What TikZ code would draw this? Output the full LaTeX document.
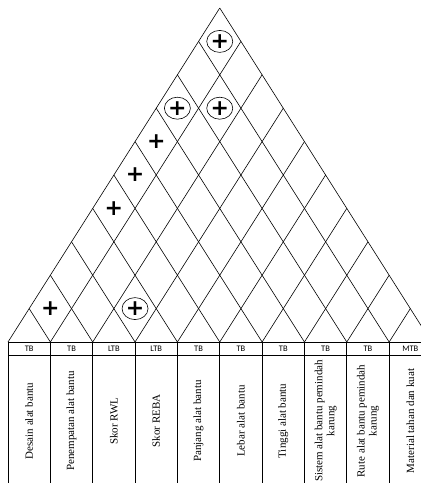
\documentclass[tikz,border=0pt]{standalone}
\usepackage{fontspec}
\setmainfont{Liberation Serif}
\newfontfamily\lblfont{Carlito}
\newfontfamily\symfont{DejaVu Sans}
\usetikzlibrary{positioning}

\newcommand\colw{42.35}
\newcommand\levh{33.4}

\begin{document}
\begin{tikzpicture}[x=1pt,y=-1pt,
  roofline/.style={line width=0.6pt},
  tabline/.style={line width=0.9pt},
  typelbl/.style={font=\lblfont\fontsize{8.5}{9}\selectfont,inner sep=0pt},
  critlbl/.style={rotate=90,align=center,font=\fontsize{11}{12}\selectfont},
  plusmark/.style={font=\symfont\bfseries\fontsize{22}{22}\selectfont,inner sep=0pt},
  ring/.style={line width=0.6pt}]
  \useasboundingbox (0,0) rectangle (421,483);
  \clip (0,0) rectangle (421,483);
  % roof
  \foreach \i in {0,...,9}
    \draw[roofline] ({8+\i*\colw},342) -- ({8+(\i+10)/2*\colw},{342-(10-\i)*\levh});
  \foreach \i in {1,...,10}
    \draw[roofline] ({8+\i*\colw},342) -- ({8+\i/2*\colw},{342-\i*\levh});
  % correlations
  \foreach \i/\j in {1/2,1/5,1/6,1/7}
    \node[plusmark] (p\i\j) at ({8+((\i+\j)/2-0.5)*\colw},{342-(\j-\i)*\levh}) {+};
  \foreach \i/\j in {3/4,1/8,2/9,1/10} {
    \node[plusmark] (q\i\j) at ({8+((\i+\j)/2-0.5)*\colw},{342-(\j-\i)*\levh}) {+};
    \draw[ring] (q\i\j) ellipse (13 and 11);
  }
  % table
  \draw[tabline] (8,342) -- (440,342);
  \draw[tabline] (8,355) -- (440,355);
  \foreach \i in {0,...,10}
    \draw[tabline] ({8+\i*\colw},342) -- ({8+\i*\colw},490);
  \foreach \t [count=\n] in {TB,TB,LTB,LTB,TB,TB,TB,TB,TB,MTB}
    \node[typelbl] (type\n) at ({8+(\n-0.5)*\colw},348.5) {\t};
  \foreach \t [count=\n] in {Desain alat bantu,Penempatan alat bantu,Skor RWL,Skor REBA,
      Panjang alat bantu,Lebar alat bantu,Tinggi alat bantu,
      {Sistem alat bantu pemindah\\karung},{Rute alat bantu pemindah\\karung},
      Material tahan dan kuat}
    \node[critlbl] (crit\n) at ({8+(\n-0.5)*\colw},421) {\t};
\end{tikzpicture}
\end{document}
